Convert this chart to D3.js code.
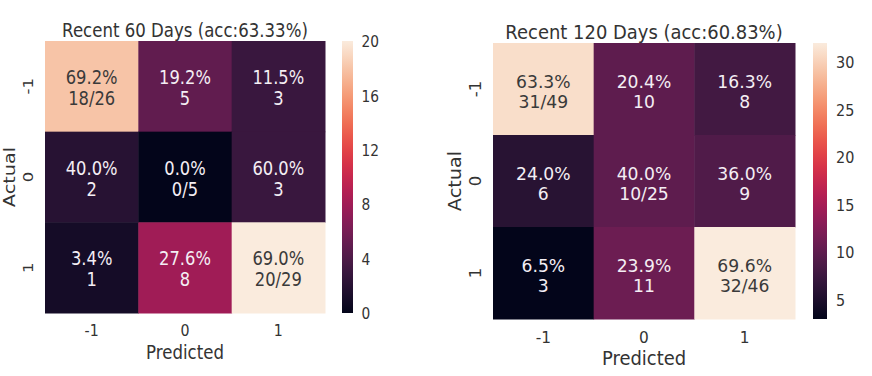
<!DOCTYPE html>
<html lang="en">
<head>
<meta charset="utf-8">
<script src="https://d3js.org/d3.v7.min.js"></script>
<style>
  body { margin: 0; background: #fff; }
  svg { display: block; font-family: "DejaVu Sans", sans-serif; }
</style>
</head>
<body>
<script>
// class labels, shared by both matrices
const classLabels = ["-1", "0", "1"];

// counts, rows = actual, cols = predicted
const counts60 = [[18, 5, 3], [2, 0, 3], [1, 8, 20]];
const counts120 = [[31, 10, 8], [6, 10, 9], [3, 11, 32]];

const title60 = "Recent 60 Days (acc:63.33%)";
const title120 = "Recent 120 Days (acc:60.83%)";

// colour bar ranges and ticks
const range60 = [0, 20];
const range120 = [3, 32];
const ticks60 = [0, 4, 8, 12, 16, 20];
const ticks120 = [5, 10, 15, 20, 25, 30];

// seaborn "rocket" colormap stops
const rocketStops = ["#03051a", "#35193e", "#701f57", "#ad1759", "#e13342", "#f37651", "#f6b48f", "#faebdd"];
const rocket = d3.interpolateRgbBasis(rocketStops);

const W = 872, H = 376;
const svg = d3.select("body").append("svg").attr("width", W).attr("height", H);

// text helper: the picture's text is a bit narrower than it is tall, so squeeze x by sx
function label(g, x, y, str, fs, sx, rot, fill) {
    return g.append("text")
        .attr("transform", `translate(${x},${y}) scale(${sx},1)` + (rot ? ` rotate(${rot})` : ""))
        .attr("text-anchor", "middle")
        .attr("font-size", fs)
        .attr("fill", fill || "#333")
        .text(str);
}

// draw one confusion-matrix panel
function drawPanel(p) {
    const g = svg.append("g");
    const x = d3.scaleBand().domain(classLabels).range([p.x0, p.x1]);
    const y = d3.scaleBand().domain(classLabels).range([p.y0, p.y1]);
    const color = d3.scaleSequential(rocket).domain(p.range);

    const cells = [];
    p.counts.forEach((row, i) => {
        const total = d3.sum(row);
        row.forEach((v, j) => {
            cells.push({ r: classLabels[i], c: classLabels[j], v: v, total: total, diag: i == j });
        });
    });

    g.selectAll("rect.cell")
        .data(cells)
        .enter()
        .append("rect")
        .attr("x", d => x(d.c))
        .attr("y", d => y(d.r))
        .attr("width", x.bandwidth() + 0.5)
        .attr("height", y.bandwidth() + 0.5)
        .attr("fill", d => color(d.v));

    // annotation: percent on first line, count (or n/total on the diagonal) below
    cells.forEach(d => {
        const cx = x(d.c) + x.bandwidth() / 2;
        const cy = y(d.r) + y.bandwidth() / 2;
        const fill = d3.lab(color(d.v)).l > 60 ? "#3a3a3a" : "#f4eef4";
        label(g, cx, cy + p.l1, (100 * d.v / d.total).toFixed(1) + "%", p.fs, p.sx, 0, fill);
        label(g, cx, cy + p.l2, d.diag ? d.v + "/" + d.total : String(d.v), p.fs, p.sx, 0, fill);
    });

    // tick labels
    classLabels.forEach(c => {
        label(g, x(c) + x.bandwidth() / 2, p.y1 + p.xtDy, c, p.tfs, p.sx, 0);
        label(g, p.x0 - 12, y(c) + y.bandwidth() / 2, c, p.tfs, p.sx, -90);
    });

    label(g, (p.x0 + p.x1) / 2, p.y1 + p.xlDy, "Predicted", p.lfs, p.sx, 0);
    label(g, p.x0 - p.ylDx, (p.y0 + p.y1) / 2, "Actual", p.lfs, p.sx, -90);
    label(g, (p.x0 + p.x1) / 2, p.y0 - 4.5, p.title, p.lfs, p.sx, 0);

    // colour bar
    const cb = d3.scaleLinear().domain(p.range).range([p.y1, p.y0]);
    const gradId = "grad" + p.id;
    const grad = svg.append("defs").append("linearGradient")
        .attr("id", gradId)
        .attr("x1", 0).attr("y1", 1).attr("x2", 0).attr("y2", 0);
    d3.range(0, 1.0001, 0.05).forEach(t => {
        grad.append("stop").attr("offset", t).attr("stop-color", rocket(t));
    });
    g.append("rect")
        .attr("x", p.cbx)
        .attr("y", p.y0)
        .attr("width", p.cbw)
        .attr("height", p.y1 - p.y0)
        .attr("fill", `url(#${gradId})`);

    const axis = g.append("g")
        .attr("transform", `translate(${p.cbx + p.cbw},0)`)
        .call(d3.axisRight(cb).tickValues(p.ticks).tickSize(0).tickPadding(0));
    axis.select(".domain").remove();
    axis.selectAll(".tick text").remove();
    axis.selectAll(".tick").each(function (d) {
        d3.select(this).append("text")
            .attr("transform", `translate(${p.cbPad},0) scale(${p.sx},1)`)
            .attr("dy", "0.35em")
            .attr("font-family", "DejaVu Sans, sans-serif")
            .attr("font-size", p.cfs)
            .attr("fill", "#333")
            .text(d);
    });
}

drawPanel({ id: 60, counts: counts60, title: title60, range: range60, ticks: ticks60,
    x0: 45, x1: 325, y0: 41, y1: 313, cbx: 342, cbw: 11, cbPad: 8.5,
    sx: 0.86, fs: 19, tfs: 16.5, lfs: 19.3, cfs: 16, l1: -2.2, l2: 18.5,
    xtDy: 23.3, xlDy: 45.7, ylDx: 30 });
drawPanel({ id: 120, counts: counts120, title: title120, range: range120, ticks: ticks120,
    x0: 493, x1: 795, y0: 43, y1: 319, cbx: 813, cbw: 14, cbPad: 9,
    sx: 0.93, fs: 18.5, tfs: 16.5, lfs: 19.3, cfs: 15.5, l1: -1.5, l2: 18.5,
    xtDy: 24.3, xlDy: 46, ylDx: 32 });
</script>
</body>
</html>
